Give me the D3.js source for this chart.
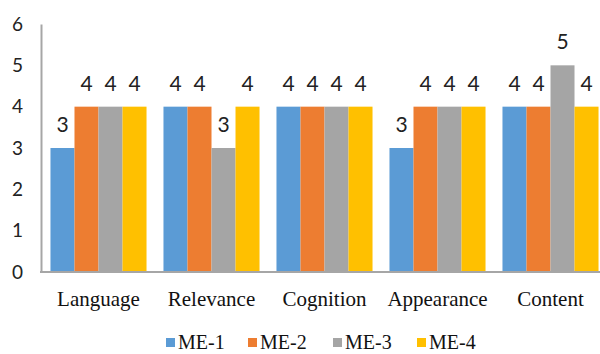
<!DOCTYPE html>
<html><head><meta charset="utf-8">
<script src="https://cdn.jsdelivr.net/npm/d3@7"></script>
<style>
body{margin:0;background:#fff;overflow:hidden}
svg{display:block}
</style></head>
<body>
<script>
const categories = ["Language","Relevance","Cognition","Appearance","Content"];
const seriesNames = ["ME-1","ME-2","ME-3","ME-4"];
const me1 = [3,4,4,3,4];
const me2 = [4,4,4,4,4];
const me3 = [4,3,4,4,5];
const me4 = [4,4,4,4,4];
const yTicks = [0,1,2,3,4,5,6];
const colors = ["#5B9BD5","#ED7D31","#A5A5A5","#FFC000"];
const seriesValues = [me1,me2,me3,me4];

const W = 600, H = 354;
const svg = d3.select("body").append("svg").attr("width",W).attr("height",H);

const x0 = d3.scaleBand().domain(categories).range([42,607]).paddingInner(0.15).paddingOuter(0.075);
const x1 = d3.scaleBand().domain(seriesNames).range([0,x0.bandwidth()]);
const y = d3.scaleLinear().domain([0,6]).range([272,24]);

const numFont = "Lato, 'Liberation Sans', sans-serif";
const serif = "'Liberation Serif', 'DejaVu Serif', serif";

// bars
const groups = svg.append("g").selectAll("g").data(categories).join("g")
  .attr("transform", d => `translate(${x0(d)},0)`);
groups.selectAll("rect")
  .data((c,i) => seriesNames.map((s,j) => ({s, v: seriesValues[j][i], j})))
  .join("rect")
  .attr("x", d => x1(d.s))
  .attr("width", x1.bandwidth())
  .attr("y", d => y(d.v))
  .attr("height", d => y(0) - y(d.v))
  .attr("fill", d => colors[d.j]);
groups.selectAll("text")
  .data((c,i) => seriesNames.map((s,j) => ({s, v: seriesValues[j][i], j})))
  .join("text")
  .attr("x", d => x1(d.s) + x1.bandwidth()/2)
  .attr("y", d => y(d.v) - 16)
  .attr("text-anchor","middle")
  .attr("font-family", numFont)
  .attr("font-size", 21)
  .attr("fill","#222")
  .text(d => d.v);

// y axis
const yAxis = svg.append("g").attr("transform","translate(41,0)")
  .call(d3.axisLeft(y).tickValues(yTicks).tickSize(0).tickPadding(18).tickFormat(d3.format("d")));
yAxis.select(".domain").attr("stroke","#A6A6A6").attr("stroke-width",2);
yAxis.selectAll("text").attr("font-family",numFont).attr("font-size",19).attr("fill","#222");

// x axis
const xAxis = svg.append("g").attr("transform","translate(0,272)")
  .call(d3.axisBottom(x0).tickSize(0).tickPadding(19));
xAxis.select(".domain").remove();
svg.append("line").attr("x1",40).attr("x2",W).attr("y1",y(0)).attr("y2",y(0))
  .attr("stroke","#A6A6A6").attr("stroke-width",2);
xAxis.selectAll("text").attr("font-family",serif).attr("font-size",21).attr("fill","#111");

// legend
const legendX = [166,248,333,417];
const lg = svg.append("g").selectAll("g").data(seriesNames).join("g")
  .attr("transform",(d,i)=>`translate(${legendX[i]},338)`);
lg.append("rect").attr("width",9).attr("height",9).attr("fill",(d,i)=>colors[i]);
lg.append("text").attr("x",12).attr("y",11).attr("font-family",serif).attr("font-size",20)
  .attr("fill","#111").text(d=>d);
</script>
</body></html>
